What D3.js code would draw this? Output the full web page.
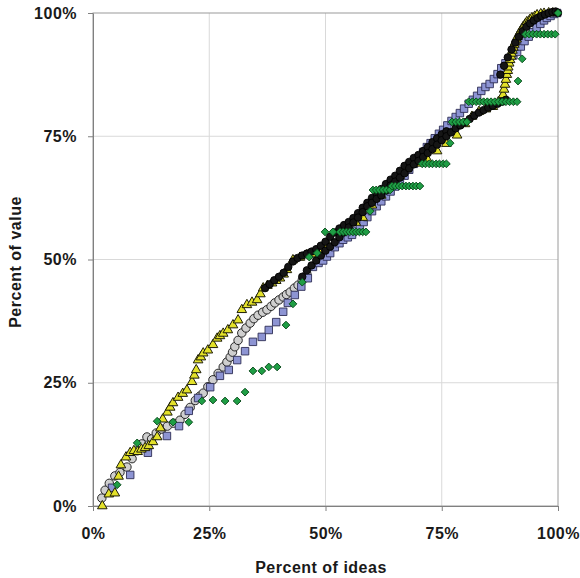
<!DOCTYPE html>
<html>
<head>
<meta charset="utf-8">
<script src="https://cdn.jsdelivr.net/npm/d3@7"></script>
<style>
  body { margin: 0; background: #fff; }
  text { font-family: "Liberation Sans", Arial, sans-serif; font-weight: bold; }
</style>
</head>
<body>
<div id="chart"></div>
<script>
// tick values for both axes (percent)
const ticks = [0, 25, 50, 75, 100];

// [percent of ideas, percent of value]
const circles = [
  [1.9,1.6],[2.6,3.2],[3.5,4.6],[4.7,6.1],[5.8,6.8],[7.3,7.9],[8.4,9.6],[9.5,11.2],[10.5,12.6],[11.6,14],
  [12.6,13.6],[13.6,14.8],[14.8,15.6],[16,16.2],[17.3,16.8],[18.7,17.4],[19.8,18.6],[20.9,20],[22,21.4],[23,22.3],
  [23.7,22.9],[24.7,24.2],[25.8,25.6],[26.9,26.9],[28,28.2],[28.8,29.2],[29.5,30.2],[30,31.2],[30.5,32.3],[31.2,33.6],
  [32,35.1],[32.9,36.1],[33.8,37.1],[34.6,38],[35.5,38.7],[36.5,39.3],[37.4,39.8],[38.3,40.5],[39.1,41.2],[40,41.8],
  [40.9,42.4],[41.6,42.9],[42.4,43.4],[43.3,44.2],[44.1,44.8],[45,45.8],[46,47]
];

// same circles where they pile up so densely that they read as black
const circlesDense = [
  [37,44.2],[38,45],[39,45.8],[40,46.5],[41,47.3],[42,48.5],[43,49.6],[44,50.3],[45,50.8],[46,51.2],
  [47,51.6],[48,52.1],[49,52.8],[50,53.6],[51,54.6],[52,55.5],[53,56.3],[54,57],[55,57.6],[56,58.4],
  [57,59.4],[58,60.5],[59,61.5],[60,62.5],[61,63.4],[62,64.3],[63,65.3],[64,66.2],[65,67],[66,68],
  [67,69],[68,69.8],[69,70.6],[70,71.2],[71,72],[72,72.8],[73,73.8],[74,74.6],[75,75.4],[76,76],
  [45,46.5],[46,47.8],[47,48.8],[48,49.8],[49,50.8],[50,51.8],[51,52.6],[52,53.5],[53,54.5],[54,55.5],
  [55,56.5],[56,57.5],[57,58.5],[58,59.6],[59,60.8],[60,61.5],[61,62.3],[62,63],[63,64],[64,65],
  [65,65.8],[66,66.6],[67,67.5],[68,68.5],[69,69.3],[70,70],[71,70.8],[72,71.6],[73,72.4],[74,73.3],
  [75,74.2],[76,75],[77,75.8],[78,76.6],[79,77.2],[80,77.8],[81,78.5],[82,79.2],[83,79.8],[84,80.3],
  [85,80.8],[86,81.2],[87,81.6],[88,82],[88.8,82.4],
  [87.6,87.5],[88.4,89.3],[89.2,91],[90,92.6],[90.8,94],[91.6,95.2],[92.4,96.3],[93.2,97.2],[94,97.9],[94.8,98.5],
  [95.6,99],[96.4,99.4],[97.2,99.7],[98,100],[98.8,100.2],[99.5,100.3],[100,100]
];

const squares = [
  [4.1,3.7],[8,6.3],[11.8,10.8],[15.9,14.2],[18.5,16.2],[20.6,19.3],[22.6,21.9],[25.2,24.1],[27.3,26.4],[29.2,27.6],
  [31,29.6],[32.7,31.4],[34.4,33.3],[36.3,34.3],[37.8,35.7],[39.4,37.3],[40.9,39.4],[41.9,41.2],[43.4,42.8],[44.8,44.5],
  [46.2,46.2],[47.3,48.5],[48.5,49.3],[49.5,49.8],[50.3,50.6],[51,51.3],[52,52.5],[53,53.3],[53.8,54],[54.8,54.5],
  [55.7,55],[56.6,55.8],[57.4,56.8],[58.2,57.6],[59,58.6],[60,59.8],[61,60.8],[62,61.8],[63,62.8],[64,63.8],
  [65,64.8],[66,65.9],[67,67],[68,68.2],[69,69.4],[70,70.6],[71,71.8],[71.8,72.8],[72.6,73.6],[73.5,74.6],
  [74.4,75.5],[75.3,76.3],[76.2,77.2],[77.1,78.1],[78,78.9],[78.9,79.7],[79.8,80.6],[80.8,81.6],[81.7,82.4],[82.6,83.2],
  [83.5,84.2],[84.4,85],[85.3,85.6],[86.2,86.6],[87,87.6],[87.8,88.8],[88.7,89.8],[89.5,90.6],[90.4,91.4],[91.2,92.1],
  [92,93.2],[92.8,94.3],[93.7,95.2],[94.6,96.1],[95.4,97],[96.2,97.8],[97,98.5],[97.6,99],[98.4,99.4],[99.1,99.8],
  [99.8,100]
];

const triangles = [
  [2,0],[3.4,2.4],[4.7,2.6],[5.5,6],[6,8.3],[7.1,9.9],[8,10.8],[8.8,11.2],[9.6,11],[10.4,11.5],
  [11.2,11.8],[12,12.2],[12.9,13],[13.8,14],[14.5,15.8],[15,17.6],[16,19],[16.6,20],[17.2,20.9],[18.3,22],
  [19.3,22.8],[20.2,23.5],[21.3,25.2],[21.8,26.5],[22.2,27.6],[22.6,29.6],[23.2,30.2],[23.7,31],[24.7,31.6],[25.8,32.7],
  [26.7,34],[27.3,34.5],[28,35],[29,35.7],[30.1,36.7],[31.2,37.7],[32,39.8],[33.1,40.8],[34.2,41.3],[35.3,41.8],
  [36,43],[36.6,44.2],[37.5,44.7],[38.5,45.2],[39.4,45.7],[40.2,46.2],[41,47],[41.7,47.9],[43,49.9],[44.5,50.4],
  [46,50.9],[47.4,51.1],[48.8,51.3],[50.5,53],[52.5,55.4],[54.6,56.6],[56.5,57.5],[58,58.5],[60,61],[62,63],
  [64,65],[66,67],[67.5,68.3],[70,69.5],[71.8,70.5],[74,72],[76,73.5],[78.3,75.2],[80,77.5],[81.5,79],
  [83,80],[84.5,80.5],[86,81],[87.2,82],[88.2,83.4],[88.4,84.5],[88.6,85.5],[88.8,86.5],[89,87.5],[89.2,88.3],
  [89.3,89],[89.5,89.8],[89.7,90.5],[89.9,91.2],[90,91.8],[90.2,92.4],[90.4,93],[90.6,93.6],[90.8,94.1],[91.1,94.7],
  [91.3,95.2],[91.6,95.7],[91.8,96.1],[92.2,96.7],[92.5,97.2],[92.9,97.7],[93.3,98.2],[93.9,98.6],[94.4,99],[95,99.3],
  [95.5,99.6],[96.3,99.8],[97,99.9],[98,100],[98.9,100]
];

const diamonds = [
  [5.2,4.3],[9.5,12.8],[13.8,17.2],[17.2,17],[20.6,17],[23.4,21.3],[25.8,21.5],[28.4,21.3],[31,21.3],[32.7,23.1],
  [34.4,27.4],[36.3,27.4],[37.8,28.2],[39.6,28.2],[41.5,36.7],[43,41],[45,45.4],[46.5,50.5],[48.2,51.3],
  [49.9,55.6],[51.6,55.6],[53.1,55.6],[53.8,55.6],[54.5,55.6],[55.2,55.6],[55.9,55.6],[56.6,55.6],[57.3,55.6],[58,55.6],[58.7,55.6],
  [59.6,59.8],
  [60.2,64.1],[60.9,64.1],[61.6,64.1],[62.4,64.1],[63.1,64.1],[63.9,64.1],
  [64.3,64.9],[65,64.9],[65.8,64.9],[66.5,64.9],[67.3,64.9],[68,64.9],[68.8,64.9],[69.5,64.9],[70.3,64.9],
  [70.8,69.4],[71.5,69.4],[72.3,69.4],[73,69.4],[73.8,69.4],[74.5,69.4],[75.3,69.4],[76,69.4],
  [76.8,73.6],
  [77.2,77.9],[78,77.9],[78.8,77.9],[79.6,77.9],[80.4,77.9],
  [80.8,82],[81.6,82],[82.4,82],[83.2,82],[84,82],[84.8,82],[85.6,82],[86.4,82],[87.2,82],[88,82],[88.8,82],[89.6,82],[90.4,82],[91.2,82],
  [91.4,86.2],[92.3,90.7],
  [93,95.7],[93.8,95.7],[94.6,95.7],[95.4,95.7],[96.2,95.7],[97,95.7],[97.8,95.7],[98.6,95.7],[99.4,95.7],
  [100,100]
];

const width = 580, height = 578;

const svg = d3.select("#chart")
  .append("svg")
    .attr("width", width)
    .attr("height", height);

const x = d3.scaleLinear().domain([0, 100]).range([93, 558]);
const y = d3.scaleLinear().domain([0, 100]).range([506, 13]);

// gridlines
svg.append("g")
  .selectAll("line")
  .data(ticks.slice(1, 4))
  .join("line")
    .attr("x1", d => x(d)).attr("x2", d => x(d))
    .attr("y1", y(0)).attr("y2", y(100))
    .attr("stroke", "#d9d9d9");
svg.append("g")
  .selectAll("line")
  .data(ticks.slice(1, 4))
  .join("line")
    .attr("x1", x(0)).attr("x2", x(100))
    .attr("y1", d => y(d)).attr("y2", d => y(d))
    .attr("stroke", "#d9d9d9");

// plot frame
svg.append("rect")
  .attr("x", x(0)).attr("y", y(100))
  .attr("width", x(100) - x(0)).attr("height", y(0) - y(100))
  .attr("fill", "none")
  .attr("stroke", "#9a9a9a");

// axes
const yAxis = svg.append("g")
  .attr("transform", `translate(${x(0)},0)`)
  .call(d3.axisLeft(y).tickValues(ticks).tickFormat(d => d + "%").tickSize(5).tickSizeOuter(0).tickPadding(11));
const xAxis = svg.append("g")
  .attr("transform", `translate(0,${y(0)})`)
  .call(d3.axisBottom(x).tickValues(ticks).tickFormat(d => d + "%").tickSize(5).tickSizeOuter(0).tickPadding(17));

[xAxis, yAxis].forEach(a => {
  a.select(".domain").attr("stroke", "#808080");
  a.selectAll(".tick line").attr("stroke", "#808080");
  a.selectAll(".tick text")
    .attr("fill", "#1a1a1a")
    .style("font-size", "16px")
    .style("letter-spacing", "0.5px")
    .style("font-family", "'Liberation Sans', Arial, sans-serif")
    .style("font-weight", "bold");
});

// axis titles
svg.append("text")
  .attr("x", 321).attr("y", 573)
  .attr("text-anchor", "middle")
  .style("font-size", "16px")
  .style("letter-spacing", "0.5px")
  .attr("fill", "#1a1a1a")
  .text("Percent of ideas");

svg.append("text")
  .attr("transform", "translate(21,262) rotate(-90)")
  .attr("text-anchor", "middle")
  .style("font-size", "16px")
  .style("letter-spacing", "0.5px")
  .attr("fill", "#1a1a1a")
  .text("Percent of value");

// markers
function drawSeries(data, symbol, size, fill, stroke, rotate, sw) {
  svg.append("g")
    .selectAll("path")
    .data(data)
    .join("path")
      .attr("d", d3.symbol().type(symbol).size(size))
      .attr("transform", d => `translate(${x(d[0])},${y(d[1])})` + (rotate ? ` rotate(${rotate})` : ""))
      .attr("fill", fill)
      .attr("stroke", stroke)
      .attr("stroke-width", sw || 0.9);
}

drawSeries(circles, d3.symbolCircle, 56, "#cfcfcf", "#262626", 0, 1);
drawSeries(squares, d3.symbolSquare, 56, "#8d94d3", "#2e2e55");
drawSeries(triangles, d3.symbolTriangle, 40, "#e3e12a", "#1e1e08", 0, 1);
drawSeries(circlesDense, d3.symbolCircle, 44, "#151515", "#000");
drawSeries(diamonds, d3.symbolSquare, 30, "#1f9e45", "#0b4a1c", 45);
</script>
</body>
</html>
